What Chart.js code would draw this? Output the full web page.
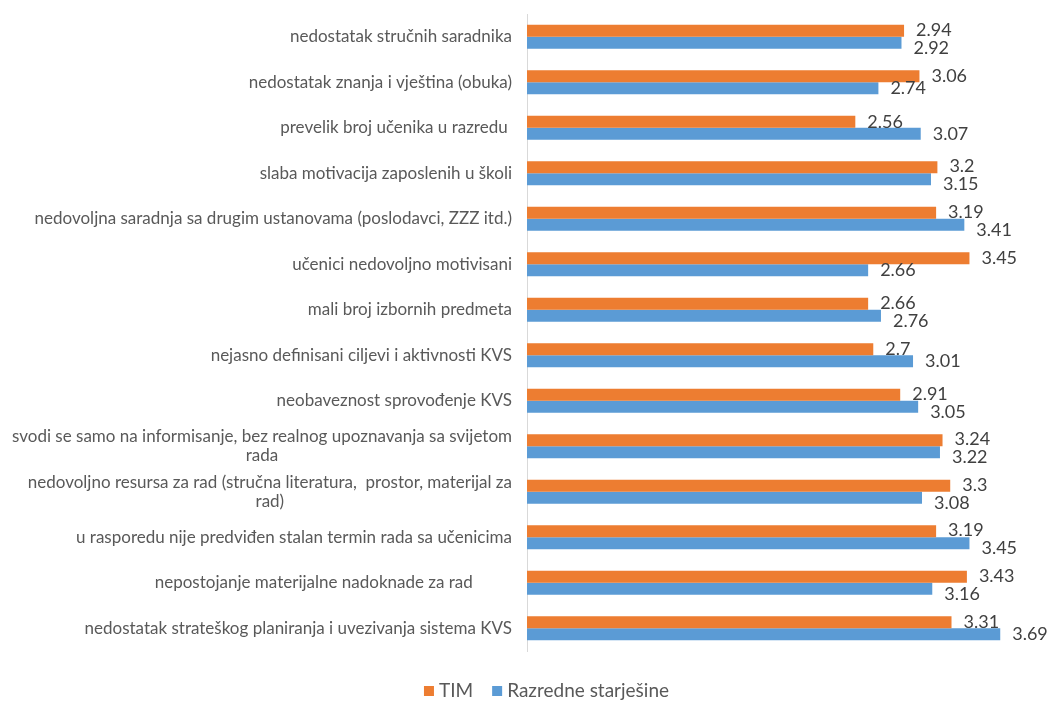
<!DOCTYPE html>
<html>
<head>
<meta charset="utf-8">
<script src="https://cdn.jsdelivr.net/npm/chart.js@4"></script>
<style>
  html, body { margin: 0; padding: 0; background: #ffffff; }
  canvas { display: block; }
</style>
</head>
<body>
<canvas id="c" width="1051" height="702"></canvas>
<script>
const categories = [
  'nedostatak stručnih saradnika',
  'nedostatak znanja i vještina (obuka)',
  'prevelik broj učenika u razredu ',
  'slaba motivacija zaposlenih u školi',
  'nedovoljna saradnja sa drugim ustanovama (poslodavci, ZZZ itd.)',
  'učenici nedovoljno motivisani',
  'mali broj izbornih predmeta',
  'nejasno definisani ciljevi i aktivnosti KVS',
  'neobaveznost sprovođenje KVS',
  ['svodi se samo na informisanje, bez realnog upoznavanja sa svijetom', 'rada'],
  ['nedovoljno resursa za rad (stručna literatura,  prostor, materijal za', 'rad)'],
  'u rasporedu nije predviđen stalan termin rada sa učenicima',
  'nepostojanje materijalne nadoknade za rad         ',
  'nedostatak strateškog planiranja i uvezivanja sistema KVS'
];
const seriesNames = ['TIM', 'Razredne starješine'];
const timValues = [2.94, 3.06, 2.56, 3.2, 3.19, 3.45, 2.66, 2.7, 2.91, 3.24, 3.3, 3.19, 3.43, 3.31];
const razredneValues = [2.92, 2.74, 3.07, 3.15, 3.41, 2.66, 2.76, 3.01, 3.05, 3.22, 3.08, 3.45, 3.16, 3.69];

const FONT = 'Lato, "Open Sans", sans-serif';
const ORANGE = '#ED7D31';
const BLUE = '#5B9BD5';

const categoryLabelPlugin = {
  id: 'categoryLabels',
  afterDraw(chart) {
    const ctx = chart.ctx;
    const y = chart.scales.y;
    const right = chart.chartArea.left - 15;
    ctx.save();
    ctx.font = '17px ' + FONT;
    ctx.fillStyle = '#595959';
    ctx.textBaseline = 'middle';
    categories.forEach((lab, i) => {
      const cy = y.getPixelForTick(i);
      if (Array.isArray(lab)) {
        const lh = 19;
        const maxW = Math.max(...lab.map(l => ctx.measureText(l).width));
        const cx = right - maxW / 2;
        ctx.textAlign = 'center';
        lab.forEach((l, k) => {
          ctx.fillText(l, cx, cy + (k - (lab.length - 1) / 2) * lh);
        });
      } else {
        ctx.textAlign = 'right';
        ctx.fillText(lab, right, cy);
      }
    });
    ctx.restore();
  }
};

const valueLabelPlugin = {
  id: 'valueLabels',
  afterDatasetsDraw(chart) {
    const ctx = chart.ctx;
    ctx.save();
    ctx.font = '18px ' + FONT;
    ctx.fillStyle = '#404040';
    ctx.textBaseline = 'middle';
    ctx.textAlign = 'left';
    const m0 = chart.getDatasetMeta(0).data;
    const m1 = chart.getDatasetMeta(1).data;
    const ds0 = chart.data.datasets[0].data;
    const ds1 = chart.data.datasets[1].data;
    for (let i = 0; i < m0.length; i++) {
      const t0 = String(ds0[i]), t1 = String(ds1[i]);
      const x0 = m0[i].x + 12, x1 = m1[i].x + 12;
      const w0 = ctx.measureText(t0).width, w1 = ctx.measureText(t1).width;
      let y0 = m0[i].y, y1 = m1[i].y;
      const overlap = x0 < x1 + w1 && x1 < x0 + w0;
      if (overlap) { y0 -= 1; y1 += 5; }
      ctx.fillText(t0, x0, y0);
      ctx.fillText(t1, x1, y1);
    }
    ctx.restore();
  }
};

const legendPlugin = {
  id: 'customLegend',
  afterDraw(chart) {
    const ctx = chart.ctx;
    ctx.save();
    ctx.font = '19px ' + FONT;
    ctx.textBaseline = 'middle';
    const box = 10, gap = 5, sep = 19;
    const items = chart.data.datasets.map(d => ({ text: d.label, color: d.backgroundColor, w: ctx.measureText(d.label).width }));
    let total = 0;
    items.forEach((it, k) => { total += box + gap + it.w + (k < items.length - 1 ? sep : 0); });
    let x = chart.width / 2 + 21 - total / 2;
    const cy = 691;
    items.forEach(it => {
      ctx.fillStyle = it.color;
      ctx.fillRect(x, cy - box / 2, box, box);
      x += box + gap;
      ctx.fillStyle = '#595959';
      ctx.textAlign = 'left';
      ctx.fillText(it.text, x, cy);
      x += it.w + sep;
    });
    ctx.restore();
  }
};

new Chart(document.getElementById('c'), {
  type: 'bar',
  data: {
    labels: categories,
    datasets: [
      { label: seriesNames[0], data: timValues, backgroundColor: ORANGE, borderWidth: 0 },
      { label: seriesNames[1], data: razredneValues, backgroundColor: BLUE, borderWidth: 0 }
    ]
  },
  options: {
    indexAxis: 'y',
    responsive: false,
    animation: false,
    devicePixelRatio: 1,
    layout: { padding: { top: 14, right: 11, bottom: 51, left: 0 } },
    datasets: { bar: { categoryPercentage: 0.53, barPercentage: 1.0 } },
    scales: {
      x: { display: false, min: 0, max: 4 },
      y: {
        grid: { display: true, drawOnChartArea: false, drawTicks: false },
        border: { display: true, color: '#D9D9D9', width: 1 },
        ticks: { display: false },
        afterFit(scale) { scale.width = 527; }
      }
    },
    plugins: {
      legend: { display: false },
      tooltip: { enabled: false }
    }
  },
  plugins: [categoryLabelPlugin, valueLabelPlugin, legendPlugin]
});
</script>
</body>
</html>
